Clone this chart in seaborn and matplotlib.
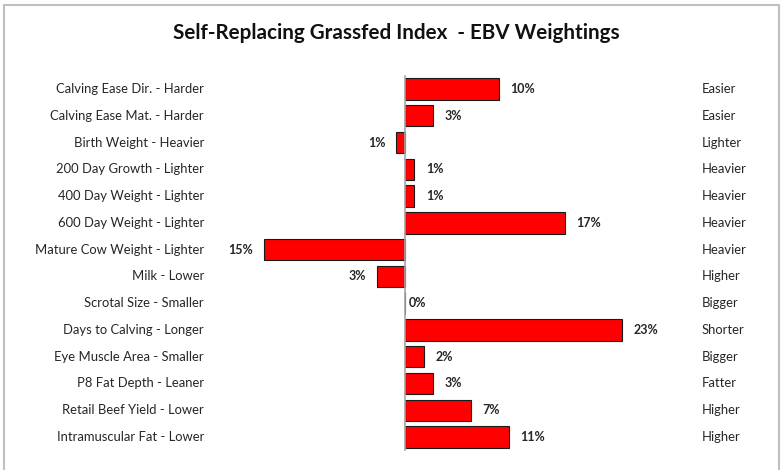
import matplotlib
matplotlib.use("Agg")
import matplotlib.pyplot as plt
from matplotlib.patches import Rectangle
import seaborn as sns
import pandas as pd

traits = [
    "Calving Ease Dir. - Harder",
    "Calving Ease Mat. - Harder",
    "Birth Weight - Heavier",
    "200 Day Growth - Lighter",
    "400 Day Weight - Lighter",
    "600 Day Weight - Lighter",
    "Mature Cow Weight - Lighter",
    "Milk - Lower",
    "Scrotal Size - Smaller",
    "Days to Calving - Longer",
    "Eye Muscle Area - Smaller",
    "P8 Fat Depth - Leaner",
    "Retail Beef Yield - Lower",
    "Intramuscular Fat - Lower",
]
favourable = [
    "Easier", "Easier", "Lighter", "Heavier", "Heavier", "Heavier", "Heavier",
    "Higher", "Bigger", "Shorter", "Bigger", "Fatter", "Higher", "Higher",
]
weights = [10, 3, -1, 1, 1, 17, -15, -3, 0, 23, 2, 3, 7, 11]

df = pd.DataFrame({"trait": traits, "weight": weights})

sns.set_style("white")
plt.rcParams["font.family"] = ["Lato", "DejaVu Sans"]
text_col = "#262626"

W, H = 782, 470
fig = plt.figure(figsize=(W / 100, H / 100), dpi=100)

# axes placed so that zero sits at x=405px, ~9.43 px per percent
xmin, xmax = -18, 30
ppu = 9.43
left_px = 405 + xmin * ppu
width_px = (xmax - xmin) * ppu
top_px, bot_px = 75.6, 450.4
ax = fig.add_axes([left_px / W, (H - bot_px) / H, width_px / W, (bot_px - top_px) / H])

sns.barplot(data=df, y="trait", x="weight", orient="h", color="#FF0000",
            edgecolor="#1a1a1a", linewidth=0.8, width=0.8, saturation=1, ax=ax)

ax.set_xlim(xmin, xmax)
ax.set_ylim(len(traits) - 0.5, -0.5)
ax.set_xlabel("")
ax.set_ylabel("")
ax.set_xticks([])

# y axis drawn at zero with ticks between categories
for s in ["top", "right", "bottom"]:
    ax.spines[s].set_visible(False)
ax.spines["left"].set_position(("data", 0))
ax.spines["left"].set_color("#A6A6A6")
ax.spines["left"].set_linewidth(1.2)
ax.set_yticks([i - 0.5 for i in range(len(traits) + 1)])
ax.set_yticklabels([])
ax.tick_params(axis="y", direction="out", length=3.5, color="#A6A6A6", width=1)

tr = ax.get_yaxis_transform()
lab_x = (204 - left_px) / width_px
fav_x = (702 - left_px) / width_px
for i, (t, f, w) in enumerate(zip(traits, favourable, weights)):
    ax.text(lab_x, i, t, transform=tr, ha="right", va="center",
            fontsize=9.4, color=text_col)
    ax.text(fav_x, i, f, transform=tr, ha="left", va="center",
            fontsize=9.4, color=text_col)
    if w < 0:
        ax.text(w - 1.1, i, f"{abs(w)}%", ha="right", va="center",
                fontsize=9, fontweight="bold", color=text_col)
    else:
        ax.text(w + 1.2 if w > 0 else 0.35, i, f"{w}%", ha="left", va="center",
                fontsize=9, fontweight="bold", color=text_col)

fig.text(396 / W, 1 - 33 / H, "Self-Replacing Grassfed Index  - EBV Weightings",
         ha="center", va="center", fontsize=14.9, fontweight="bold", color="#111111")

# outer frame (bottom edge runs off the picture)
fig.patches.append(Rectangle((4 / W, -0.05), 775 / W, 1.05 - 4.5 / H,
                             transform=fig.transFigure, fill=False,
                             edgecolor="#BFBFBF", linewidth=1.5))

fig.savefig("out.png", dpi=100)
